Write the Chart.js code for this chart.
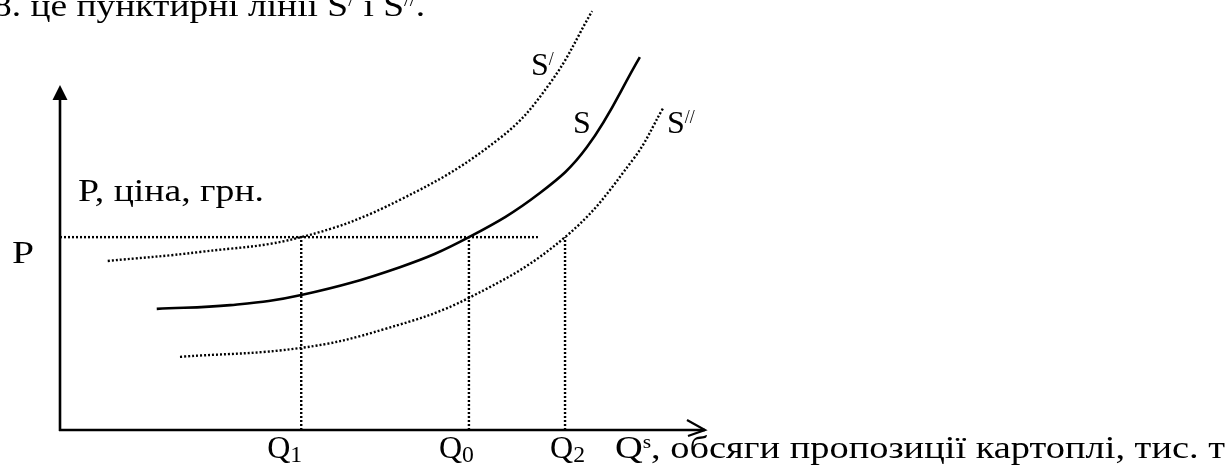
<!DOCTYPE html>
<html>
<head>
<meta charset="utf-8">
<script src="https://cdn.jsdelivr.net/npm/chart.js@4"></script>
<style>
  html, body { margin: 0; padding: 0; background: #fff; }
  #wrap { width: 1229px; height: 465px; position: relative; }
</style>
</head>
<body>
<div id="wrap"><canvas id="chart"></canvas></div>
<script>
// Supply curve shift diagram: S, S' (left/up) and S'' (right/down).

// Q values (quantity) and P values (price), arbitrary units 0..100
const S_Q = [15.0, 26.4, 37.4, 52.7, 63.4, 74.4, 81.7, 89.9];
const S_P = [35.1, 36.2, 39.1, 47.2, 55.9, 68.7, 82.0, 108.1];

const S1_Q = [7.4, 21.7, 37.4, 52.7, 68.2, 76.0, 82.5];
const S1_P = [49.0, 51.6, 55.9, 66.7, 84.6, 100.6, 121.4];

const S2_Q = [18.6, 37.4, 50.4, 63.4, 78.3, 88.8, 93.6];
const S2_P = [21.2, 23.8, 29.3, 38.3, 55.9, 78.3, 93.6];

const P0 = 55.9;
const P_LINE_END = 74.1;
const Q_MARKS = [37.4, 63.4, 78.3];
const Q_SUBS = ["1", "0", "2"];

const FONT = '"Liberation Serif", "Times New Roman", serif';
const FS = 32;

function pts(xs, ys) {
  return xs.map((x, i) => ({ x, y: ys[i] }));
}

function curve(data, dotted) {
  return {
    data,
    showLine: true,
    borderColor: "#000",
    borderWidth: dotted ? 2.4 : 2.6,
    borderDash: dotted ? [2, 2] : [],
    pointRadius: 0,
    tension: 0.4,
    clip: false,
  };
}

function guide(data) {
  return {
    data,
    showLine: true,
    borderColor: "#000",
    borderWidth: 2.4,
    borderDash: [2, 2],
    pointRadius: 0,
    tension: 0,
    clip: false,
  };
}

function partFont(p, size) {
  if (p.sub) return { s: size * 0.74, dy: size * 0.12 };
  if (p.sup) return { s: size * 0.56, dy: -size * 0.32 };
  return { s: size, dy: 0 };
}

// text with sub/superscripts, left aligned at x, baseline y; optional target width
function rich(ctx, parts, x, y, size, width) {
  let natural = 0;
  for (const p of parts) {
    ctx.font = `${partFont(p, size).s}px ${FONT}`;
    natural += ctx.measureText(p.t).width;
  }
  const sx = width ? width / natural : 1;
  ctx.save();
  ctx.translate(x, y);
  ctx.scale(sx, 1);
  let cx = 0;
  for (const p of parts) {
    const f = partFont(p, size);
    ctx.font = `${f.s}px ${FONT}`;
    ctx.fillText(p.t, cx, f.dy);
    cx += ctx.measureText(p.t).width;
  }
  ctx.restore();
}

const annotate = {
  id: "annotate",
  afterDraw(chart) {
    const { ctx, scales: { x, y } } = chart;
    const x0 = x.getPixelForValue(0), y0 = y.getPixelForValue(0);
    const xEnd = x.getPixelForValue(100), yEnd = y.getPixelForValue(100);
    ctx.save();
    ctx.strokeStyle = "#000";
    ctx.fillStyle = "#000";
    ctx.lineWidth = 2.6;

    // axes
    ctx.beginPath();
    ctx.moveTo(x0, y0 + 1);
    ctx.lineTo(x0, yEnd + 12);
    ctx.moveTo(x0 - 1, y0);
    ctx.lineTo(xEnd, y0);
    ctx.stroke();
    ctx.beginPath();
    ctx.moveTo(x0, yEnd);
    ctx.lineTo(x0 - 7.5, yEnd + 15);
    ctx.lineTo(x0 + 7.5, yEnd + 15);
    ctx.closePath();
    ctx.fill();
    ctx.lineWidth = 2.2;
    ctx.beginPath();
    ctx.moveTo(xEnd - 18, y0 - 10);
    ctx.lineTo(xEnd, y0);
    ctx.lineTo(xEnd - 17, y0 + 6);
    ctx.stroke();

    ctx.textBaseline = "alphabetic";
    ctx.textAlign = "left";

    // heading line cut at the top
    rich(ctx, [
      { t: "8. це пунктирні лінії S" }, { t: "/", sup: true },
      { t: " і S" }, { t: "//", sup: true }, { t: "." },
    ], -7, 16, FS, 432);

    const pY = y.getPixelForValue(P0);
    rich(ctx, [{ t: "P" }], x0 - 48, pY + 26, FS, 22);
    rich(ctx, [{ t: "P, ціна, грн." }], x0 + 18, pY - 36, FS, 186);

    const qOff = [-34, -30, -15];
    Q_MARKS.forEach((q, i) => {
      rich(ctx, [{ t: "Q" }, { t: Q_SUBS[i], sub: true }], x.getPixelForValue(q) + qOff[i], y0 + 28, FS);
    });
    rich(ctx, [
      { t: "Q" }, { t: "s", sup: true },
      { t: ", обсяги пропозиції картоплі, тис. т" },
    ], xEnd - 90, y0 + 28, FS, 610);

    rich(ctx, [{ t: "S" }, { t: "/", sup: true }], 531, 75, FS);
    rich(ctx, [{ t: "S" }], 573, 133, FS);
    rich(ctx, [{ t: "S" }, { t: "//", sup: true }], 667, 133, FS);
    ctx.restore();
  },
};

new Chart(document.getElementById("chart"), {
  type: "scatter",
  data: {
    datasets: [
      curve(pts(S_Q, S_P), false),
      curve(pts(S1_Q, S1_P), true),
      curve(pts(S2_Q, S2_P), true),
      guide([{ x: 0, y: P0 }, { x: P_LINE_END, y: P0 }]),
      ...Q_MARKS.map((q) => guide([{ x: q, y: 0 }, { x: q, y: P0 }])),
    ],
  },
  options: {
    responsive: true,
    maintainAspectRatio: false,
    animation: false,
    layout: { padding: { left: 60, right: 524, top: 85, bottom: 35 } },
    plugins: { legend: { display: false }, tooltip: { enabled: false } },
    scales: {
      x: { type: "linear", min: 0, max: 100, display: false },
      y: { type: "linear", min: 0, max: 100, display: false },
    },
  },
  plugins: [annotate],
});
</script>
</body>
</html>
